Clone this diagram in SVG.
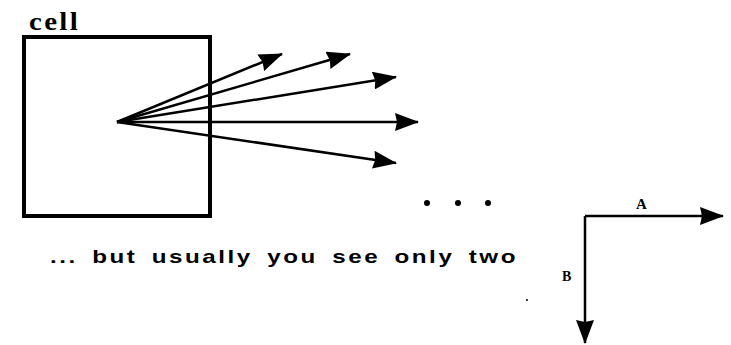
<svg xmlns="http://www.w3.org/2000/svg" width="731" height="345" viewBox="0 0 731 345">
<defs>
<marker id="ah" viewBox="0 0 24 18" refX="23" refY="9" markerWidth="24" markerHeight="18" markerUnits="userSpaceOnUse" orient="auto">
<path d="M0,0 L24,9 L0,18 L2,9 Z" fill="#000"/>
</marker>
</defs>
<style>
.ln{stroke:#000;stroke-width:2.5;fill:none;marker-end:url(#ah)}
.lbl{font-family:"Liberation Serif",serif;font-weight:bold;fill:#000}
.cap{font-family:"Liberation Sans",Arial,sans-serif;font-weight:bold;font-size:19px;letter-spacing:2px;word-spacing:4px;fill:#000}
</style>
<rect width="731" height="345" fill="#fff"/>
<g id="cell">
<rect x="24" y="37" width="186" height="179" fill="none" stroke="#000" stroke-width="4"/>
<text class="lbl" x="29" y="30" font-size="25" letter-spacing="2" textLength="51" lengthAdjust="spacingAndGlyphs">cell</text>
</g>
<g id="connectors">
<line class="ln" x1="117" y1="122" x2="282" y2="54"/>
<line class="ln" x1="117" y1="122" x2="350" y2="54"/>
<line class="ln" x1="117" y1="122" x2="396" y2="77"/>
<line class="ln" x1="117" y1="122" x2="418" y2="122"/>
<line class="ln" x1="117" y1="122" x2="396" y2="163"/>
<line class="ln" x1="585" y1="216" x2="723" y2="216"/>
<line class="ln" x1="585" y1="216" x2="585" y2="343"/>
</g>
<g id="dots" fill="#000">
<circle cx="427" cy="203" r="3"/>
<circle cx="458" cy="203" r="3"/>
<circle cx="488" cy="203" r="3"/>
<circle cx="527" cy="300" r="1"/>
</g>
<g id="caption">
<text class="cap" x="50" y="263" textLength="468" lengthAdjust="spacingAndGlyphs">... but usually you see only two</text>
</g>
<g id="axes-labels">
<text class="lbl" x="636" y="209" font-size="15">A</text>
<text class="lbl" x="562" y="281" font-size="14">B</text>
</g>
</svg>
